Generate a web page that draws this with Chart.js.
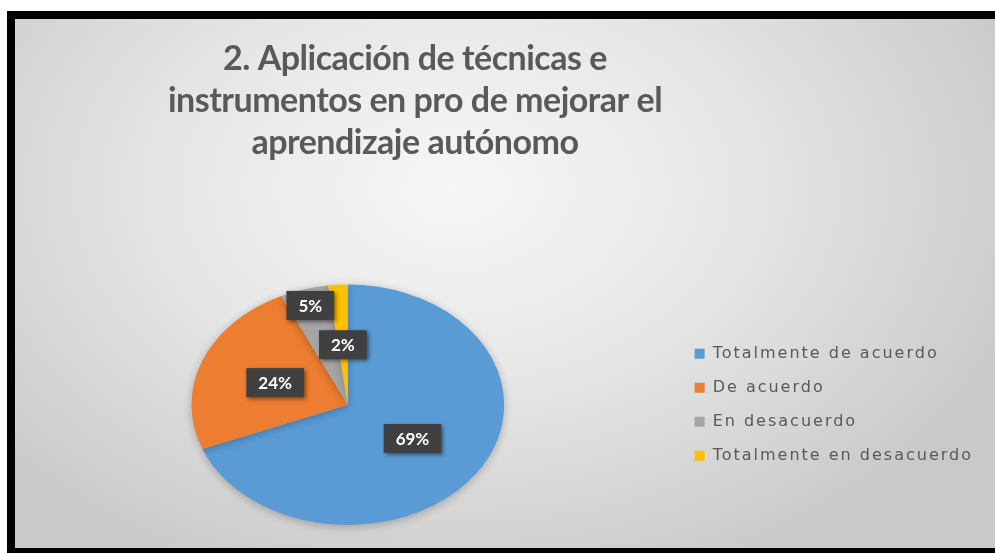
<!DOCTYPE html>
<html>
<head>
<meta charset="utf-8">
<script src="https://cdn.jsdelivr.net/npm/chart.js"></script>
<style>
  html, body { margin: 0; padding: 0; background: #fff; }
  #frame {
    position: absolute;
    left: 7px; top: 11px;
    width: 980px; height: 529px;
    border-left: 8px solid #000;
    border-top: 8px solid #000;
    border-bottom: 5px solid #000;
    background: radial-gradient(ellipse 62% 80% at 45% 32%, #f6f6f6 0%, #e7e7e7 45%, #c9c9c9 100%);
  }
  #box { position: relative; width: 980px; height: 529px; }
</style>
</head>
<body>
<div id="frame"><div id="box"><canvas id="myChart"></canvas></div></div>
<script>
const title = ["2. Aplicación de técnicas e", "instrumentos en pro de mejorar el", "aprendizaje autónomo"];
const answers = ["Totalmente de acuerdo", "De acuerdo", "En desacuerdo", "Totalmente en desacuerdo"];
const percents = [69, 24, 5, 2];
const colors = ["#5b9bd5", "#ed7d31", "#a5a5a5", "#ffc000"];

// how far out each label sits, as a share of the radius
const labelRadius = [0.5, 0.5, 0.86, 0.5];
const stretchX = 1.3; // the pie in the picture is wider than tall

// squash the pie into an ellipse and add a soft shadow
const ellipsePie = {
  id: "ellipsePie",
  beforeDatasetsDraw(chart) {
    const arc = chart.getDatasetMeta(0).data[0];
    const ctx = chart.ctx;
    ctx.save();
    ctx.translate(arc.x, arc.y);
    ctx.scale(stretchX, 1);
    ctx.translate(-arc.x, -arc.y);
    ctx.shadowColor = "rgba(0,0,0,0.25)";
    ctx.shadowBlur = 8;
    ctx.shadowOffsetY = 2;
  },
  afterDatasetsDraw(chart) {
    chart.ctx.restore();
  },
};

// dark boxes with the percentages
const pctLabels = {
  id: "pctLabels",
  afterDatasetsDraw(chart) {
    const ctx = chart.ctx;
    const meta = chart.getDatasetMeta(0);
    ctx.save();
    ctx.font = "bold 17px Lato";
    ctx.textAlign = "center";
    ctx.textBaseline = "middle";
    meta.data.forEach((arc, i) => {
      const { x, y, startAngle, endAngle, outerRadius } = arc.getProps(
        ["x", "y", "startAngle", "endAngle", "outerRadius"], true);
      const mid = (startAngle + endAngle) / 2;
      const r = outerRadius * labelRadius[i];
      const px = x + Math.cos(mid) * r * stretchX;
      const py = y + Math.sin(mid) * r;
      const text = percents[i] + "%";
      const w = ctx.measureText(text).width + 24;
      const h = 29;
      ctx.shadowColor = "rgba(0,0,0,0.45)";
      ctx.shadowBlur = 4;
      ctx.shadowOffsetX = 2;
      ctx.shadowOffsetY = 2;
      ctx.fillStyle = "#404040";
      ctx.fillRect(px - w / 2, py - h / 2, w, h);
      ctx.shadowColor = "transparent";
      ctx.fillStyle = "#ffffff";
      ctx.fillText(text, px, py + 1);
    });
    ctx.restore();
  },
};

// run a box method with some letter spacing
function spaced(chart, box, name, spacing) {
  const orig = box[name];
  box[name] = function (...args) {
    chart.ctx.save();
    chart.ctx.letterSpacing = spacing;
    const res = orig.apply(this, args);
    chart.ctx.restore();
    return res;
  };
}

// legend text is spaced out, title is tighter and sits left of the centre
const tweaks = {
  id: "tweaks",
  afterInit(chart) {
    spaced(chart, chart.legend, "fit", "2px");
    spaced(chart, chart.legend, "draw", "2px");
    spaced(chart, chart.titleBlock, "draw", "-0.5px");
  },
  afterLayout(chart) {
    chart.titleBlock.left = 0;
    chart.titleBlock.right = 800;
  },
};

const ctx = document.getElementById("myChart");

const myChart = new Chart(ctx, {
  type: "pie",
  data: {
    labels: answers,
    datasets: [
      {
        data: percents,
        backgroundColor: colors,
        borderWidth: 0,
      },
    ],
  },
  options: {
    responsive: true,
    maintainAspectRatio: false,
    animation: false,
    layout: {
      padding: { top: 0, left: 4, right: 12, bottom: 23 },
    },
    plugins: {
      title: {
        display: true,
        text: title,
        color: "#595959",
        font: { family: "Lato", size: 34, weight: "bold", lineHeight: 1.24 },
        padding: { top: 19, bottom: 120 },
      },
      legend: {
        position: "right",
        fullSize: false,
        labels: {
          color: "#595959",
          font: { family: "DejaVu Sans", size: 16 },
          boxWidth: 10,
          boxHeight: 10,
          padding: 18,
        },
      },
      tooltip: { enabled: false },
    },
  },
  plugins: [ellipsePie, pctLabels, tweaks],
});
</script>
</body>
</html>
